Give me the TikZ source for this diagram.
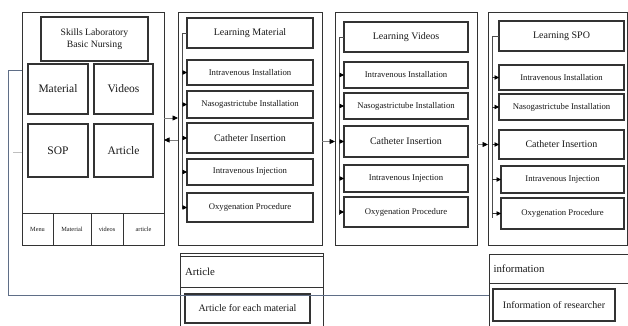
\documentclass[tikz,border=0pt]{standalone}
\usepackage{fontspec}
\setmainfont{Liberation Serif}
\usetikzlibrary{arrows.meta,calc}
\newcommand\rbox[7]{\node[#6, minimum width={(#4)-(#2)}, minimum height={(#5)-(#3)}] (#1) at ({((#2)+(#4))/2},{((#3)+(#5))/2}) {#7};}
\tikzset{
  box/.style={draw=black!80, line width=1.15pt, inner sep=0pt, outer sep=0pt, text=black!90},
  panel/.style={box, line width=1pt},
  item/.style={box, font=\fontsize{8.7}{10}\selectfont},
  cat/.style={box, font=\fontsize{10}{12}\selectfont},
  hdr/.style={box, font=\fontsize{10}{12}\selectfont},
  big/.style={box, font=\fontsize{11.5}{13}\selectfont},
  ttl/.style={box, font=\fontsize{9.7}{11.5}\selectfont, align=center},
  tiny/.style={box, line width=1pt, font=\fontsize{6.3}{7.5}\selectfont},
  sub/.style={box, font=\fontsize{10}{12}\selectfont},
  lhdr/.style={box, line width=1pt, font=\fontsize{10.8}{12}\selectfont, text width=#1, align=left},
  brk/.style={draw=black!70, line width=0.8pt},
  arr/.style={draw=black!80, line width=0.6pt, -{Triangle[length=4.5pt,width=4.5pt,color=black]}},
  link/.style={draw=black!50, line width=0.7pt, -{Triangle[length=5.5pt,width=5pt,color=black]}},
  longlink/.style={draw={rgb,255:red,95;green,110;blue,135}, line width=0.9pt},
  faint/.style={draw=black!25, line width=0.6pt},
}
\begin{document}
\begin{tikzpicture}[x=1pt,y=-1pt]
\useasboundingbox[fill=white] (0,0) rectangle (628,326);

% ---- Panel 1
\rbox{p1}{22}{13}{164}{245}{panel}{}
\rbox{t1}{41}{17}{148}{61}{ttl}{Skills Laboratory\\Basic Nursing}
\rbox{a1}{28}{64}{88}{114}{big}{Material}
\rbox{a2}{94}{64}{153}{114}{big}{Videos}
\rbox{a3}{28}{124}{88}{177}{big}{SOP}
\rbox{a4}{94}{124}{153}{177}{big}{Article}
\rbox{mn1}{22}{213}{53}{245}{tiny}{Menu}
\rbox{mn2}{53}{213}{91}{245}{tiny}{Material}
\rbox{mn3}{91}{213}{123}{245}{tiny}{videos}
\rbox{mn4}{123}{213}{164}{245}{tiny}{article}

% ---- Panel 2
\rbox{p2}{178}{13}{322}{245}{panel}{}
\rbox{m0}{187}{18}{313}{48}{hdr}{Learning Material}
\rbox{m1}{187}{60}{313}{85}{item}{Intravenous Installation}
\rbox{m2}{187}{91}{313}{118}{item}{Nasogastrictube Installation}
\rbox{m3}{187}{123}{313}{153}{cat}{Catheter Insertion}
\rbox{m4}{187}{159}{313}{185}{item}{Intravenous Injection}
\rbox{m5}{187}{193}{313}{222}{item}{Oxygenation Procedure}

% ---- Panel 3
\rbox{p3}{335}{13}{477}{245}{panel}{}
\rbox{v0}{344}{22}{468}{52}{hdr}{Learning Videos}
\rbox{v1}{344}{62}{468}{88}{item}{Intravenous Installation}
\rbox{v2}{344}{93}{468}{119}{item}{Nasogastrictube Installation}
\rbox{v3}{344}{126}{468}{157}{cat}{Catheter Insertion}
\rbox{v4}{344}{165}{468}{192}{item}{Intravenous Injection}
\rbox{v5}{344}{197}{468}{227}{item}{Oxygenation Procedure}

% ---- Panel 4
\rbox{p4}{488}{13}{627}{245}{panel}{}
\rbox{s0}{499}{21}{624}{51}{hdr}{Learning SPO}
\rbox{s1}{499}{65}{624}{90}{item}{Intravenous Installation}
\rbox{s2}{499}{94}{624}{120}{item}{Nasogastrictube Installation}
\rbox{s3}{499}{130}{624}{159}{cat}{Catheter Insertion}
\rbox{s4}{501}{166}{624}{193}{item}{Intravenous Injection}
\rbox{s5}{501}{198}{624}{229}{item}{Oxygenation Procedure}

% ---- Bottom: Article
\rbox{ac}{180}{253}{323}{345}{panel}{}
\rbox{ah}{180}{256}{323}{287}{lhdr=133pt}{Article}
\rbox{ab}{185}{294}{310}{323}{sub}{Article for each material}

% ---- Bottom: information
\rbox{ic}{489}{254}{660}{345}{panel}{}
\rbox{ih}{489}{254}{660}{283}{lhdr=162pt}{information}
\rbox{ib}{493}{289}{615}{321}{sub}{Information of researcher}

% ---- Brackets inside panels
\coordinate (b2) at (182,209);
\coordinate (b3) at (339,215);
\coordinate (b4) at (492,218);
\draw[brk] (m0.west) -| (b2);
\draw[brk] (v0.west) -| (b3);
\draw[brk] (s0.west) -| (b4);
\foreach \i in {1,...,5}{
  \draw[arr] (b2 |- m\i.west) -- (m\i.west);
  \draw[arr] (b3 |- v\i.west) -- (v\i.west);
  \draw[arr] (b4 |- s\i.west) -- (s\i.west);
}

% ---- Links between panels
\coordinate (c12) at (164,118);
\coordinate (c21) at (164,140);
\draw[link] (p1.east |- c12) -- (p2.west |- c12);
\draw[link] (p2.west |- c21) -- (p1.east |- c21);
\draw[link] (p2.east |- v3.west) -- (p3.west |- v3.west);
\draw[link] (p3.east |- s3.west) -- (p4.west |- s3.west);

% ---- Long link from panel 1 to information
\coordinate (lkTop) at (8,70);
\coordinate (lkBot) at (8,295);
\draw[longlink] (p1.west |- lkTop) -- (lkTop) -- (lkBot) -- (ic.west |- lkBot);
\coordinate (fl) at (13,152);
\draw[faint] (fl) -- (p1.west |- fl);
\end{tikzpicture}
\end{document}
